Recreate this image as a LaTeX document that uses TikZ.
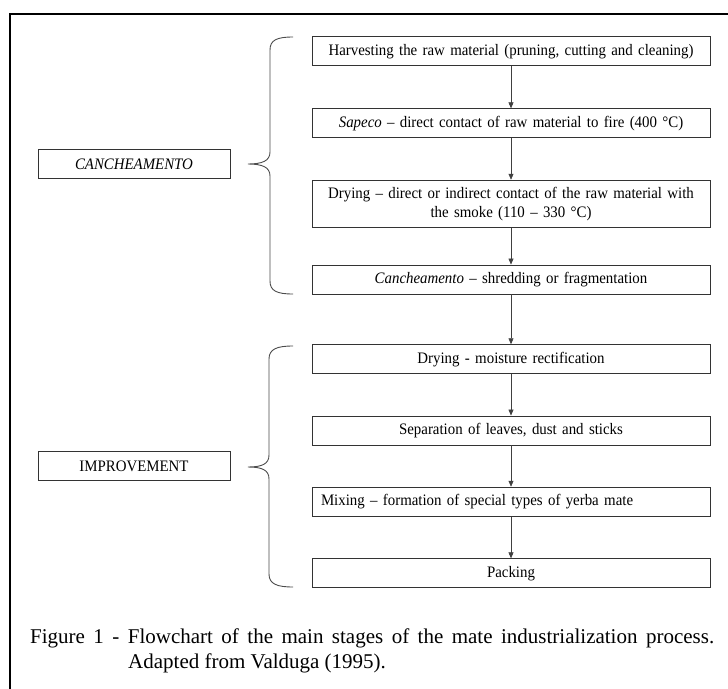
\documentclass[tikz,border=0pt]{standalone}
\usepackage{fontspec}
\setmainfont{Liberation Serif}
\newfontfamily\boxfont{Liberation Serif}[FakeStretch=0.93]
\usetikzlibrary{arrows.meta}
\hyphenpenalty=10000

\begin{document}
\begin{tikzpicture}[x=1pt,y=-1pt,
  stage/.style={draw=black!80, line width=0.9pt, text width=380pt, align=center,
    minimum height=29pt, inner xsep=9pt, inner ysep=2pt, font=\boxfont\fontsize{16}{19}\selectfont},
  phase/.style={draw=black!80, line width=0.9pt, minimum width=192pt, minimum height=29pt,
    inner sep=0pt, font=\boxfont\fontsize{16}{19}\selectfont},
  flow/.style={draw=black!75, line width=0.6pt, -{Triangle[length=6pt,width=5pt]}},
  brace/.style={draw=black!70, line width=0.9pt}]
\useasboundingbox (0,0) rectangle (728,688);
\clip (0,0) rectangle (728,688);
\fill[white] (0,0) rectangle (728,688);
% frame, cut off at right and bottom
\draw[line width=1.5pt] (10,14) rectangle (760,720);

% first phase
\node[stage] (harvest) at (511,51.2) {Harvesting the raw material (pruning, cutting and cleaning)};
\node[stage] (sapeco) at (511,123.3) {\textit{Sapeco} – direct contact of raw material to fire (400 °C)};
\node[stage, minimum height=47pt] (drying) at (511,203.7) {Drying – direct or indirect contact of the raw material with\\the smoke (110 – 330 °C)};
\node[stage] (canch) at (511,279.5) {\textit{Cancheamento} – shredding or fragmentation};

% second phase
\node[stage] (moisture) at (511,359.2) {Drying - moisture rectification};
\node[stage] (separation) at (511,430.5) {Separation of leaves, dust and sticks};
\node[stage, align=left] (mixing) at (511,501.7) {Mixing – formation of special types of yerba mate};
\node[stage] (packing) at (511,573.3) {Packing};

\foreach \a/\b in {harvest/sapeco, sapeco/drying, drying/canch, canch/moisture,
  moisture/separation, separation/mixing, mixing/packing}
  \draw[flow] (\a) -- (\b);

% phase labels and braces
\node[phase] (canchphase) at (134,164) {\textit{CANCHEAMENTO}};
\node[phase] (improvephase) at (134,466.3) {IMPROVEMENT};

\draw[brace] (293,37) .. controls (277,37) and (270,40) .. (270,50) -- (270,152)
  .. controls (270,161) and (262,164) .. (248,164)
  .. controls (262,164) and (270,167) .. (270,176) -- (270,281)
  .. controls (270,291) and (277,294) .. (293,294);
\draw[brace] (293,346) .. controls (277,346) and (269,349) .. (269,359) -- (269,455)
  .. controls (269,464) and (262,467) .. (248,467)
  .. controls (262,467) and (269,470) .. (269,479) -- (269,574)
  .. controls (269,584) and (277,587) .. (293,587);

% caption
\node[anchor=north west, text width=684pt, align=justify, inner sep=0pt,
  font=\fontsize{21}{25}\selectfont] (caption) at (30,628.5)
  {\hangindent=98pt\hangafter=1 Figure 1 - Flowchart of the main stages of the mate industrialization process. Adapted from Valduga (1995).\par};
\end{tikzpicture}
\end{document}
